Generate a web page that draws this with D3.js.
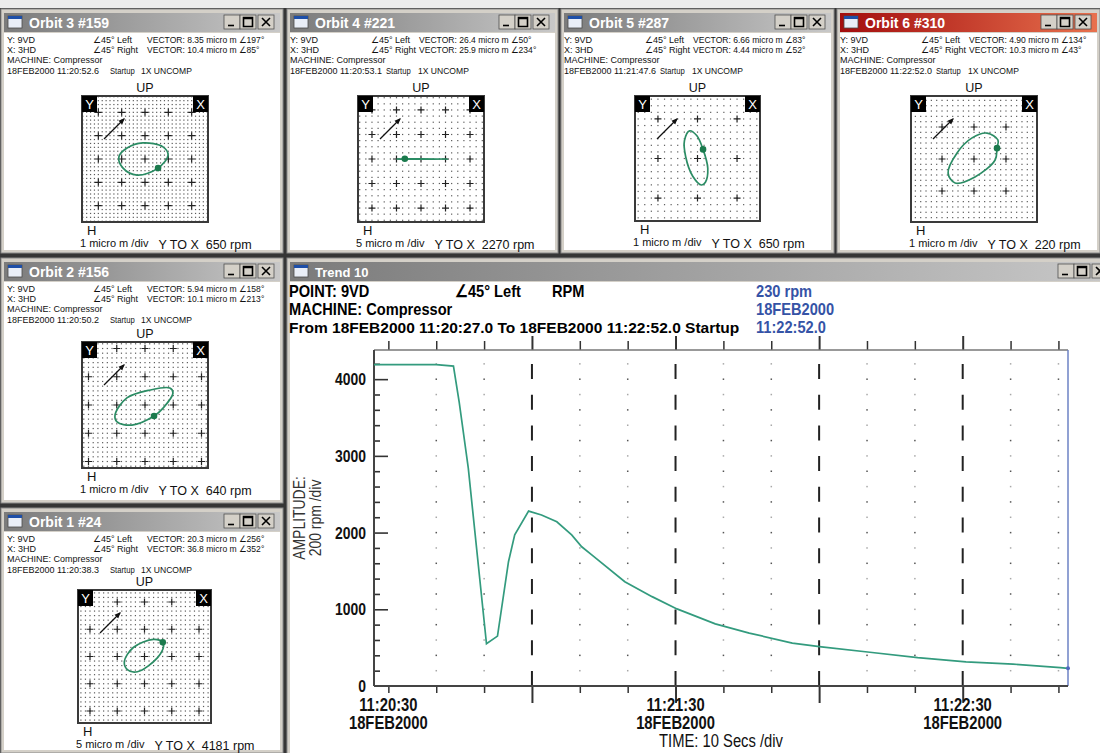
<!DOCTYPE html>
<html>
<head>
<meta charset="utf-8">
<script src="https://cdn.jsdelivr.net/npm/d3@7"></script>
<style>
  body { margin: 0; background: #363636; overflow: hidden; }
  svg { display: block; }
</style>
</head>
<body>
<svg id="screen" width="1100" height="753"></svg>
<script>
// ---- trend 10: speed of 9VD during the startup ----
const trendTime = ['11:20:27.0', '11:20:40.0', '11:20:43.6', '11:20:44.8', '11:20:46.7', '11:20:50.5',
                   '11:20:52.8', '11:20:55.1', '11:20:56.4', '11:20:59.3', '11:21:02.0', '11:21:05.2',
                   '11:21:08.3', '11:21:10.4', '11:21:12.5', '11:21:19.4', '11:21:25.1', '11:21:30.3',
                   '11:21:38.3', '11:21:45.4', '11:21:54.4', '11:22:00.5', '11:22:10.6', '11:22:20.6',
                   '11:22:30.7', '11:22:40.5', '11:22:50.4', '11:22:52.0']
const trendRpm = [4190, 4190, 4170, 3700, 2840, 550,
                  650, 1620, 1970, 2280, 2230, 2140,
                  1970, 1815, 1710, 1360, 1165, 1005,
                  810, 690, 560, 510, 440, 370,
                  315, 285, 240, 230]
const rpmTicks = [0, 1000, 2000, 3000, 4000]
const majorTimes = ['11:21:00', '11:21:30', '11:22:00', '11:22:30']
const labelTimes = ['11:20:30', '11:21:30', '11:22:30']
const recordDate = '18FEB2000'
const machine = 'Compressor'

// ---- orbit windows ----
const orbitTitles = ['Orbit 3 #159', 'Orbit 4 #221', 'Orbit 5 #287', 'Orbit 6 #310', 'Orbit 2 #156', 'Orbit 1 #24']
const orbitStamps = ['11:20:52.6', '11:20:53.1', '11:21:47.6', '11:22:52.0', '11:20:50.2', '11:20:38.3']
const orbitRpm = [650, 2270, 650, 220, 640, 4181]
const orbitScale = [1, 5, 1, 1, 1, 5]       // micro m /div
const vectorY = [[8.35, 197], [26.4, 50], [6.66, 83], [4.90, 134], [5.94, 158], [20.3, 256]]
const vectorX = [[10.4, 85], [25.9, 234], [4.44, 52], [10.3, 43], [10.1, 213], [36.8, 352]]
// orbit outlines, micro m, y up
const orbitShapes = [
  [[-1.12, 0.09], [-0.77, 0.47], [-0.09, 0.69], [0.77, 0.52], [0.99, 0.17], [0.56, -0.39], [-0.34, -0.69], [-0.94, -0.39]],
  [[-5, 0], [-3.3, 0.04], [0, 0.04], [5.4, 0], [0, -0.04], [-3.3, -0.04]],
  [[-0.2, 0.7], [-0.02, 0.58], [0.14, 0.23], [0.26, -0.25], [0.2, -0.6], [0.1, -0.67], [-0.12, -0.45], [-0.3, 0.05], [-0.33, 0.45]],
  [[0.41, 0.81], [0.75, 0.59], [0.72, 0.34], [0.66, -0.03], [0.03, -0.56], [-0.59, -0.75], [-0.81, -0.44], [-0.53, 0.19], [-0.06, 0.66]],
  [[-1.06, -0.35], [-0.64, 0.25], [0.18, 0.53], [0.88, 0.6], [0.99, 0.42], [0.64, -0.11], [0.32, -0.39], [-0.46, -0.71], [-0.99, -0.6]],
  [[3.35, 2.6], [1.65, 3.15], [-2.05, 1.65], [-3.7, -0.95], [-3.15, -2.4], [-1.3, -2.8], [2.4, -0.2], [3.5, 1.85]]
]
const orbitKey = [5, 1, 2, 2, 6, 0]   // keyphasor dot

const SANS = "'Liberation Sans',Arial,sans-serif"

const svg = d3.select('#screen')
const defs = svg.append('defs')
let gi = defs.append('linearGradient').attr('id', 'gInactive')
gi.append('stop').attr('offset', '0%').attr('stop-color', '#7b7b7b')
gi.append('stop').attr('offset', '100%').attr('stop-color', '#c8c8c8')
let ga = defs.append('linearGradient').attr('id', 'gActive')
ga.append('stop').attr('offset', '0%').attr('stop-color', '#a30d0d')
ga.append('stop').attr('offset', '100%').attr('stop-color', '#e8714e')
defs.append('marker').attr('id', 'head').attr('viewBox', '0 0 10 10')
    .attr('refX', 8).attr('refY', 5).attr('markerWidth', 5).attr('markerHeight', 5).attr('orient', 'auto')
  .append('path').attr('d', 'M0,1L10,5L0,9z').attr('fill', '#111')

// squeeze Liberation Sans into an Arial Narrow look
let narrow = (sel, k = 0.82) => sel.each(function () {
    let w = this.getComputedTextLength()
    d3.select(this).attr('textLength', w * k).attr('lengthAdjust', 'spacingAndGlyphs')
})

svg.append('rect').attr('width', 1100).attr('height', 753).attr('fill', '#363636')
svg.append('rect').attr('width', 1100).attr('height', 8).attr('fill', '#ececec')

let drawWindow = (w, title, active, titleSize) => {
    let g = svg.append('g')
    g.append('rect').attr('x', w.x).attr('y', w.y).attr('width', w.w).attr('height', w.h)
        .attr('fill', '#d4d0c8').attr('stroke', '#8a8a8a')
    g.append('rect').attr('x', w.x + 3).attr('y', w.y + 4).attr('width', w.w - 6).attr('height', 19)
        .attr('fill', active ? 'url(#gActive)' : 'url(#gInactive)')
    g.append('rect').attr('x', w.x + 7).attr('y', w.y + 7).attr('width', 14).attr('height', 12)
        .attr('fill', '#e9eef7').attr('stroke', '#4a4a4a').attr('stroke-width', 0.8)
    g.append('rect').attr('x', w.x + 7).attr('y', w.y + 7).attr('width', 14).attr('height', 3).attr('fill', '#1e4fa8')
    g.append('text').attr('x', w.x + 28).attr('y', w.y + 19)
        .attr('font-family', SANS).attr('font-weight', 'bold').attr('font-size', titleSize)
        .attr('fill', '#fff').text(title)

    let cx = w.x + w.w - 25
    ;[cx - 34, cx - 18, cx].forEach((bx, k) => {
        g.append('rect').attr('x', bx).attr('y', w.y + 6).attr('width', 16).attr('height', 14)
            .attr('fill', '#d4d0c8').attr('stroke', '#505050').attr('stroke-width', 0.8)
        let p = k == 0 ? `M${bx + 4},${w.y + 16.5}H${bx + 10}`
              : k == 1 ? `M${bx + 3.5},${w.y + 8.5}h9v9h-9zM${bx + 3.5},${w.y + 9.5}h9`
              : `M${bx + 4},${w.y + 9}l8,8M${bx + 12},${w.y + 9}l-8,8`
        g.append('path').attr('d', p).attr('fill', 'none').attr('stroke', '#000').attr('stroke-width', 1.6)
    })
    g.append('rect').attr('x', w.x + 3).attr('y', w.y + 24).attr('width', w.w - 6).attr('height', w.h - 27)
        .attr('fill', '#fff')
    return g
}

// ---------------- orbits ----------------
const orbitLayout = [
    {x: 1,   y: 9,   w: 282, h: 244, bx: 82,  by: 96,  bs: 126, ext: 2.7,  sub: 6, col: 0},
    {x: 287, y: 9,   w: 271, h: 244, bx: 358, by: 96,  bs: 126, ext: 2.57, sub: 4, col: 1},
    {x: 561, y: 9,   w: 273, h: 244, bx: 635, by: 96,  bs: 125, ext: 1.58, sub: 6, col: 1},
    {x: 837, y: 9,   w: 263, h: 244, bx: 911, by: 96,  bs: 126, ext: 1.97, sub: 6, col: 1},
    {x: 1,   y: 258, w: 282, h: 245, bx: 82,  by: 342, bs: 126, ext: 2.23, sub: 6, col: 0},
    {x: 1,   y: 508, w: 282, h: 245, bx: 78,  by: 590, bs: 133, ext: 2.44, sub: 6, col: 0}
]

let vecText = v => `VECTOR: ${v[0].toPrecision(3)} micro m \u2220${v[1]}\u00b0`

orbitLayout.forEach((L, i) => {
    let g = drawWindow(L, orbitTitles[i], i == 3, 14)
    let left = L.col == 0
    let pad = L.x + (left ? 6 : 3), ax = L.x + (left ? 92 : 84), vx = L.x + (left ? 146 : 132)
    let sx = L.x + (left ? 109 : 99), ux = L.x + (left ? 140 : 131)

    let t = g.append('g').attr('font-family', SANS).attr('font-size', 9).attr('fill', '#111')
    let row = (dy, items) => items.forEach(([x0, s, k]) => {
        let tx = t.append('text').attr('x', x0).attr('y', L.y + dy).text(s)
        if (k) narrow(tx, k)
    })
    row(34, [[pad, 'Y: 9VD'], [ax, '\u222045\u00b0 Left'], [vx, vecText(vectorY[i]), 0.95]])
    row(44, [[pad, 'X: 3HD'], [ax, '\u222045\u00b0 Right'], [vx, vecText(vectorX[i]), 0.95]])
    row(54, [[pad, 'MACHINE: ' + machine]])
    row(65, [[pad, recordDate + ' ' + orbitStamps[i]], [sx, 'Startup', 0.85], [ux, '1X UNCOMP', 0.95]])

    g.append('text').attr('x', L.bx + L.bs / 2).attr('y', L.by - 4).attr('text-anchor', 'middle')
        .attr('font-family', SANS).attr('font-size', 12.5).attr('fill', '#111').text('UP')

    let um = orbitScale[i], ext = L.ext * um
    let xs = d3.scaleLinear().domain([-ext, ext]).range([L.bx, L.bx + L.bs])
    let ys = d3.scaleLinear().domain([-ext, ext]).range([L.by + L.bs, L.by])

    g.append('rect').attr('x', L.bx).attr('y', L.by).attr('width', L.bs).attr('height', L.bs).attr('fill', '#fff')

    let step = um / L.sub
    let k = Math.floor(ext / step - 0.15)
    let lv = d3.range(-k, k + 1).map(j => j * step)
    g.append('g').selectAll('rect').data(d3.cross(lv, lv)).join('rect')
        .attr('x', d => xs(d[0]) - 0.6).attr('y', d => ys(d[1]) - 0.6)
        .attr('width', 1.2).attr('height', 1.2).attr('fill', '#5a5a5a')

    let kc = Math.floor(ext / um - 0.1)
    let cl = d3.range(-kc, kc + 1).map(j => j * um)
    g.append('g').selectAll('path').data(d3.cross(cl, cl)).join('path')
        .attr('d', d => `M${xs(d[0]) - 3.5},${ys(d[1])}h7M${xs(d[0])},${ys(d[1]) - 3.5}v7`)
        .attr('stroke', '#222').attr('stroke-width', 1.2)

    g.append('rect').attr('x', L.bx).attr('y', L.by).attr('width', L.bs).attr('height', L.bs)
        .attr('fill', 'none').attr('stroke', '#3a3a3a').attr('stroke-width', 2)

    ;[['Y', L.bx], ['X', L.bx + L.bs - 15]].forEach(([s, x0]) => {
        g.append('rect').attr('x', x0).attr('y', L.by).attr('width', 15).attr('height', 16).attr('fill', '#000')
        g.append('text').attr('x', x0 + 7.5).attr('y', L.by + 13).attr('text-anchor', 'middle')
            .attr('font-family', SANS).attr('font-size', 13).attr('fill', '#fff').text(s)
    })

    g.append('line').attr('x1', L.bx + 22).attr('y1', L.by + 43).attr('x2', L.bx + 42).attr('y2', L.by + 23)
        .attr('stroke', '#111').attr('stroke-width', 1.3).attr('marker-end', 'url(#head)')

    let orbitLine = d3.line().x(d => xs(d[0])).y(d => ys(d[1])).curve(d3.curveCatmullRomClosed.alpha(0.5))
    g.append('path').datum(orbitShapes[i]).attr('d', orbitLine)
        .attr('fill', 'none').attr('stroke', '#2b8c64').attr('stroke-width', 1.7)
    let kp = orbitShapes[i][orbitKey[i]]
    g.append('circle').attr('cx', xs(kp[0])).attr('cy', ys(kp[1])).attr('r', 3.3).attr('fill', '#1b7a4d')

    let yb = L.by + L.bs
    g.append('text').attr('x', L.bx + 5).attr('y', yb + 13)
        .attr('font-family', SANS).attr('font-size', 13).attr('fill', '#111').text('H')
    let dl = g.append('text').attr('x', L.bx - 2).attr('y', yb + 25)
        .attr('font-family', SANS).attr('font-size', 11).attr('fill', '#111').text(`${um} micro m /div`)
    let dw = dl.node().getComputedTextLength()
    g.append('text').attr('x', L.bx - 2 + dw + 10).attr('y', yb + 27)
        .attr('font-family', SANS).attr('font-size', 12.5).attr('fill', '#111')
        .style('white-space', 'pre').text(`Y TO X  ${orbitRpm[i]} rpm`)
})

// ---------------- trend ----------------
const TW = {x: 287, y: 258, w: 830, h: 500}
let tg = drawWindow(TW, 'Trend 10', false, 13)

let parseT = s => {
    let p = s.split(':')
    return new Date(2000, 1, 18, +p[0], +p[1], 0, Math.round(+p[2] * 1000))
}
let fmtT = d3.timeFormat('%H:%M:%S')
let trendData = trendTime.map((s, i) => ({t: parseT(s), v: trendRpm[i]}))

const P = {l: 374, r: 1068, t: 350, b: 686}
let x = d3.scaleTime().domain([trendData[0].t, trendData[trendData.length - 1].t]).range([P.l, P.r])
let y = d3.scaleLinear().domain([0, 4380]).range([P.b, P.t])

// header
let hd = tg.append('g').attr('font-family', SANS).attr('font-weight', 'bold').attr('font-size', 17).attr('fill', '#000')
hd.append('text').attr('x', 289).attr('y', 297).text('POINT: 9VD').call(narrow, 0.86)
hd.append('text').attr('x', 455).attr('y', 297).text('\u222045\u00b0 Left').call(narrow, 0.86)
hd.append('text').attr('x', 552).attr('y', 297).text('RPM').call(narrow, 0.86)
hd.append('text').attr('x', 289).attr('y', 315).text('MACHINE: ' + machine).call(narrow, 0.86)
hd.append('text').attr('x', 289).attr('y', 333).attr('font-size', 15.5)
    .text(`From ${recordDate} ${trendTime[0]} To ${recordDate} ${trendTime[trendTime.length - 1]} Startup`)
let blue = hd.append('g').attr('fill', '#3553a6')
blue.append('text').attr('x', 756).attr('y', 297).text(trendRpm[trendRpm.length - 1] + ' rpm').call(narrow, 0.86)
blue.append('text').attr('x', 756).attr('y', 315).text(recordDate).call(narrow, 0.86)
blue.append('text').attr('x', 756).attr('y', 333).text(trendTime[trendTime.length - 1]).call(narrow, 0.86)

// grid
let tenSec = x.ticks(d3.timeSecond.every(10))
let isMajor = t => majorTimes.includes(fmtT(t))
let dotted = tenSec.filter(t => !isMajor(t) && !labelTimes.includes(fmtT(t)))
let dotLevels = d3.range(200, 4380, 200)
tg.append('g').selectAll('rect').data(d3.cross(dotted, dotLevels)).join('rect')
    .attr('x', d => x(d[0]) - 0.7).attr('y', d => y(d[1]) - 0.7).attr('width', 1.5).attr('height', 1.5)
    .attr('fill', d => d[1] % 400 == 0 ? '#555' : '#a8a8a8')
tg.append('g').selectAll('line').data(tenSec.filter(isMajor)).join('line')
    .attr('x1', d => x(d)).attr('x2', d => x(d)).attr('y1', P.b).attr('y2', P.t)
    .attr('stroke', '#222').attr('stroke-width', 2).attr('stroke-dasharray', '15,15.7')

// ticks
let styleAxis = (sel, w) => {
    sel.select('.domain').remove()
    sel.selectAll('line').attr('stroke', '#333').attr('stroke-width', w)
}
let minorT = tenSec.filter(t => !isMajor(t)), majorT = tenSec.filter(isMajor)
tg.append('g').attr('transform', `translate(0,${P.b})`)
    .call(d3.axisBottom(x).tickValues(minorT).tickSize(7).tickFormat('')).call(styleAxis, 1.5)
tg.append('g').attr('transform', `translate(0,${P.b})`)
    .call(d3.axisBottom(x).tickValues(majorT).tickSize(17).tickFormat('')).call(styleAxis, 2)
tg.append('g').attr('transform', `translate(0,${P.t})`)
    .call(d3.axisTop(x).tickValues(minorT).tickSize(9).tickFormat('')).call(styleAxis, 1.5)
tg.append('g').attr('transform', `translate(0,${P.t})`)
    .call(d3.axisTop(x).tickValues(majorT).tickSize(14).tickFormat('')).call(styleAxis, 2)

let rpmMinor = d3.range(200, 4380, 200).filter(v => v % 1000 != 0)
tg.append('g').attr('transform', `translate(${P.l},0)`)
    .call(d3.axisRight(y).tickValues(rpmMinor).tickSize(6).tickFormat('')).call(styleAxis, 1.6)
tg.append('g').attr('transform', `translate(${P.l},0)`)
    .call(d3.axisRight(y).tickValues(rpmTicks.slice(1)).tickSize(14).tickFormat('')).call(styleAxis, 1.6)
let yl = tg.append('g').attr('transform', `translate(${P.l},0)`)
    .call(d3.axisLeft(y).tickValues(rpmTicks).tickFormat(d3.format('d')).tickSize(0).tickPadding(8))
yl.select('.domain').remove()
yl.selectAll('text').attr('font-family', SANS).attr('font-weight', 'bold').attr('font-size', 17).attr('fill', '#111')
    .call(narrow)

// x labels
let xl = tg.append('g').attr('font-family', SANS).attr('font-weight', 'bold').attr('font-size', 18)
    .attr('fill', '#111').attr('text-anchor', 'middle')
labelTimes.map(parseT).forEach(t => {
    xl.append('text').attr('x', x(t)).attr('y', 711).text(fmtT(t)).call(narrow)
    xl.append('text').attr('x', x(t)).attr('y', 729).text(recordDate).call(narrow)
})
tg.append('text').attr('x', (P.l + P.r) / 2).attr('y', 747).attr('text-anchor', 'middle')
    .attr('font-family', SANS).attr('font-size', 18).attr('fill', '#111').text('TIME: 10 Secs /div').call(narrow)

let yt = tg.append('g').attr('font-family', SANS).attr('font-size', 17).attr('fill', '#333').attr('text-anchor', 'middle')
yt.append('text').attr('transform', `translate(305,${(P.t + P.b) / 2}) rotate(-90)`).text('AMPLITUDE:').call(narrow)
yt.append('text').attr('transform', `translate(321,${(P.t + P.b) / 2}) rotate(-90)`).text('200 rpm /div').call(narrow)

// frame
tg.append('line').attr('x1', P.l).attr('x2', P.r).attr('y1', P.t).attr('y2', P.t).attr('stroke', '#777').attr('stroke-width', 1.5)
tg.append('line').attr('x1', P.r).attr('x2', P.r).attr('y1', P.t).attr('y2', P.b).attr('stroke', '#6d82c4').attr('stroke-width', 1.5)
tg.append('line').attr('x1', P.l).attr('x2', P.l).attr('y1', P.t).attr('y2', P.b).attr('stroke', '#444').attr('stroke-width', 2)
tg.append('line').attr('x1', P.l).attr('x2', P.r).attr('y1', P.b).attr('y2', P.b).attr('stroke', '#444').attr('stroke-width', 2)

// curve
tg.append('path').datum(trendData)
    .attr('d', d3.line().x(d => x(d.t)).y(d => y(d.v)))
    .attr('fill', 'none').attr('stroke', '#339b7e').attr('stroke-width', 1.7)
let last = trendData[trendData.length - 1]
tg.append('circle').attr('cx', x(last.t)).attr('cy', y(last.v)).attr('r', 2).attr('fill', '#5068c0')
</script>
</body>
</html>
